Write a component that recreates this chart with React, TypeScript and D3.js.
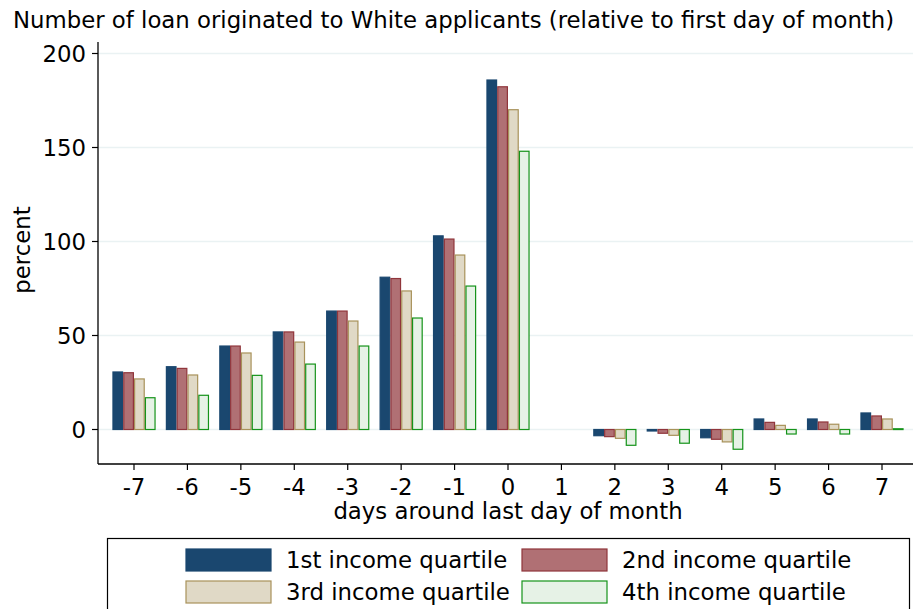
import React from "react";
import * as d3 from "d3";

const days = [-7, -6, -5, -4, -3, -2, -1, 0, 1, 2, 3, 4, 5, 6, 7];
const seriesNames = ["1st income quartile", "2nd income quartile", "3rd income quartile", "4th income quartile"];
const q1: (number | null)[] = [30.6, 33.4, 44.4, 51.9, 63, 81, 103, 185.9, null, -3.3, -0.8, -4.4, 5.6, 5.6, 8.8];
const q2: (number | null)[] = [30.2, 32.5, 44.4, 51.9, 63, 80.3, 101.3, 182.3, null, -3.8, -2, -5.2, 3.8, 4, 7.2];
const q3: (number | null)[] = [26.9, 29, 40.7, 46.5, 57.7, 73.7, 92.8, 170.1, null, -4.7, -3.1, -6.6, 2.2, 2.8, 5.6];
const q4: (number | null)[] = [16.9, 18.2, 28.8, 34.8, 44.4, 59.3, 76.3, 148, null, -8.4, -7.3, -10.5, -2.4, -2.4, 0.4];
const yTicks = [0, 50, 100, 150, 200];

const fills = ["#1a476f", "#b07074", "#e0d9c6", "#e6f2e6"];
const strokes = ["#1a476f", "#90353b", "#a8925a", "#15931a"];

export default function App() {
  const W = 915, H = 609;
  const left = 98, right = 913, top = 42, bottom = 464;
  const font = "DejaVu Sans, sans-serif";
  const fs = 22.8;
  const y = d3.scaleLinear().domain([0, 200]).range([429.5, 53.5]);
  const x = d3.scaleLinear().domain([-7, 7]).range([134, 882]);
  const step = x(1) - x(0);
  const groupW = step * 0.81;
  const band = d3.scaleBand<number>().domain([0, 1, 2, 3]).range([-groupW / 2, groupW / 2]);
  const all = [q1, q2, q3, q4];

  return (
    <svg width={W} height={H} style={{ position: "absolute", left: 0, top: 0 }} fontFamily={font}>
      <rect width={W} height={H} fill="#fff" />
      <text x={13} y={28} fontSize={fs} fill="#000">
        Number of loan originated to White applicants (relative to first day of month)
      </text>
      {yTicks.map((t) => (
        <g key={t}>
          <line x1={left} x2={right} y1={y(t)} y2={y(t)} stroke="#eaf2f3" strokeWidth={1.5} />
          <line x1={left - 6} x2={left} y1={y(t)} y2={y(t)} stroke="#000" strokeWidth={1.2} />
          <text x={left - 12} y={y(t) + 8.5} fontSize={fs} textAnchor="end">{t}</text>
        </g>
      ))}
      {all.map((s, si) =>
        s.map((v, i) =>
          v === null ? null : (
            <rect
              key={`${si}-${i}`}
              x={x(days[i]) + (band(si) as number) + 0.6}
              width={band.bandwidth() - 1.2}
              y={Math.min(y(v), y(0))}
              height={Math.max(Math.abs(y(v) - y(0)), 0.8)}
              fill={fills[si]}
              stroke={strokes[si]}
              strokeWidth={1.2}
            />
          )
        )
      )}
      <line x1={left} x2={left} y1={top} y2={bottom} stroke="#000" strokeWidth={1.3} />
      <line x1={left} x2={right} y1={bottom} y2={bottom} stroke="#000" strokeWidth={1.3} />
      {days.map((d) => (
        <g key={d}>
          <line x1={x(d)} x2={x(d)} y1={bottom} y2={bottom + 6} stroke="#000" strokeWidth={1.2} />
          <text x={x(d)} y={494.5} fontSize={fs} textAnchor="middle">{d}</text>
        </g>
      ))}
      <text x={508} y={519} fontSize={fs} textAnchor="middle">days around last day of month</text>
      <text transform="translate(30,250) rotate(-90)" fontSize={fs} textAnchor="middle">percent</text>
      <rect x={107.5} y={538.5} width={802} height={80} fill="none" stroke="#000" strokeWidth={1.2} />
      {seriesNames.map((n, i) => {
        const col = i % 2, row = Math.floor(i / 2);
        const sx = col === 0 ? 186 : 522;
        const sy = row === 0 ? 549 : 581;
        return (
          <g key={n}>
            <rect x={sx} y={sy} width={85} height={22} fill={fills[i]} stroke={strokes[i]} strokeWidth={1.2} />
            <text x={sx + 100} y={sy + 19} fontSize={fs}>{n}</text>
          </g>
        );
      })}
    </svg>
  );
}
